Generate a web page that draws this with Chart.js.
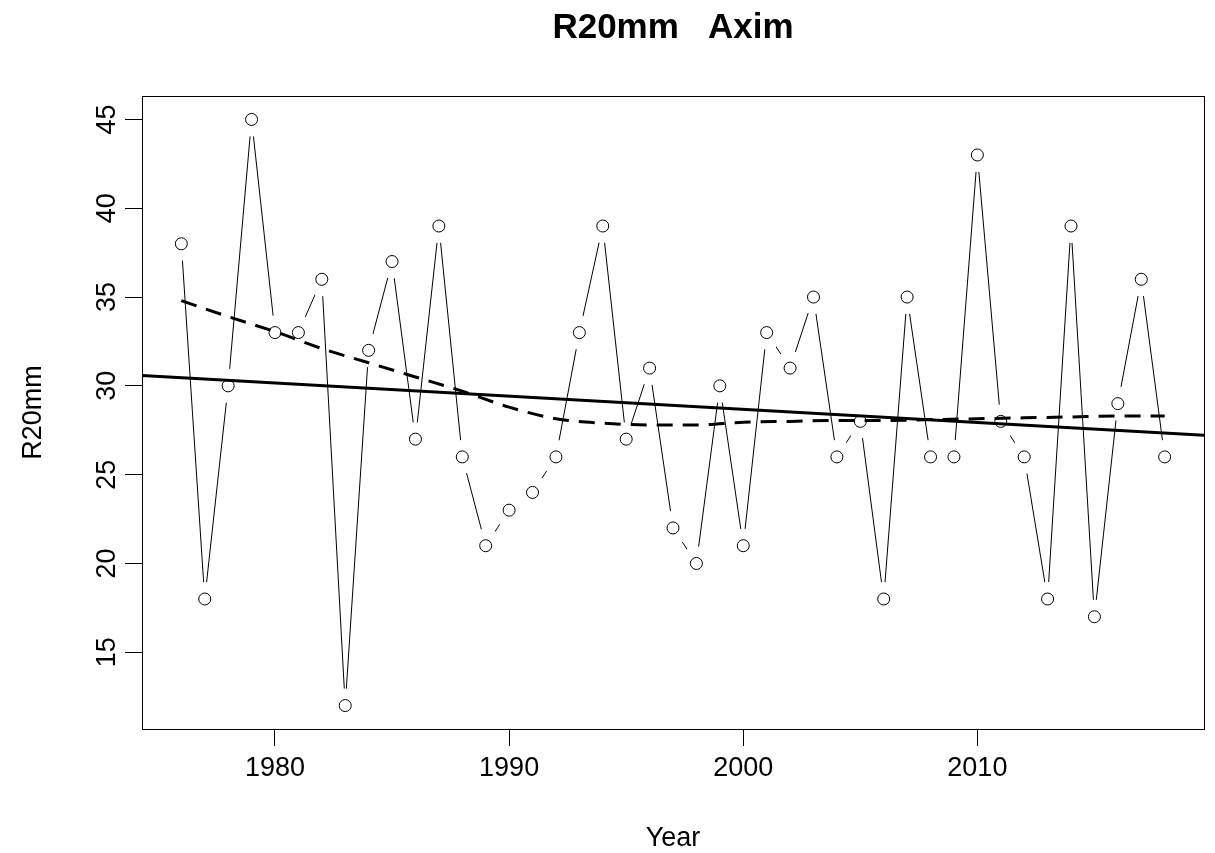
<!DOCTYPE html>
<html>
<head>
<meta charset="utf-8">
<script src="https://cdn.jsdelivr.net/npm/chart.js@4.4.1/dist/chart.umd.min.js"></script>
<style>
  html, body { margin: 0; padding: 0; background: #fff; }
  #wrap { width: 1215px; height: 853px; }
</style>
</head>
<body>
<div id="wrap"><canvas id="r20Chart" width="1215" height="853"></canvas></div>
<script>
const years = [1976, 1977, 1978, 1979, 1980, 1981, 1982, 1983, 1984, 1985,
    1986, 1987, 1988, 1989, 1990, 1991, 1992, 1993, 1994, 1995,
    1996, 1997, 1998, 1999, 2000, 2001, 2002, 2003, 2004, 2005,
    2006, 2007, 2008, 2009, 2010, 2011, 2012, 2013, 2014, 2015,
    2016, 2017, 2018];
const r20mm = [38, 18, 30, 45, 33, 33, 36, 12, 32, 37,
    27, 39, 26, 21, 23, 24, 26, 33, 39, 27,
    31, 22, 20, 30, 21, 33, 31, 35, 26, 28,
    18, 35, 26, 26, 43, 28, 26, 18, 39, 17,
    29, 36, 26];

// linear trend (abline) - read at the plot edges
const trendYears = [1974.32, 2019.68];
const trendValues = [30.59, 27.22];

// smoothed curve (dashed)
const smoothYears = [1976, 1978, 1980, 1982, 1984, 1986, 1988, 1990, 1992, 1994, 1996,
    1998, 2000, 2002, 2004, 2006, 2008, 2010, 2012, 2014, 2016, 2018];
const smoothValues = [34.8, 33.9, 33.05, 32.1, 31.3, 30.5, 29.7, 28.8, 28.15, 27.9, 27.8,
    27.8, 27.95, 28.0, 28.05, 28.05, 28.1, 28.15, 28.2, 28.25, 28.3, 28.3];

const xTicks = [1980, 1990, 2000, 2010];
const yTicks = [15, 20, 25, 30, 35, 40, 45];
const xRange = [1974.32, 2019.68];
const yRange = [10.68, 46.32];

const FONT = '"Liberation Sans", Arial, sans-serif';

const toPoints = (xs, ys) => xs.map((x, i) => ({ x, y: ys[i] }));

// frame around the plot + main title (centred over the plot region like R)
const FrameAndTitle = {
    id: 'frameAndTitle',
    afterDraw(chart) {
        const { ctx, chartArea: a } = chart;
        ctx.save();
        ctx.strokeStyle = '#000';
        ctx.lineWidth = 1;
        ctx.strokeRect(Math.round(a.left) + 0.5, Math.round(a.top) + 0.5,
            Math.round(a.right - a.left), Math.round(a.bottom - a.top));

        ctx.fillStyle = '#000';
        ctx.font = 'bold 35px ' + FONT;
        ctx.textAlign = 'center';
        ctx.textBaseline = 'alphabetic';
        ctx.fillText('R20mm   Axim', (a.left + a.right) / 2, 38);
        ctx.restore();
    }
};

const ctx = document.getElementById('r20Chart').getContext('2d');

new Chart(ctx, {
    type: 'line',
    data: {
        datasets: [
            {
                // connecting lines; white discs leave the gaps round each point (type = "b")
                data: toPoints(years, r20mm),
                borderColor: '#000',
                borderWidth: 1,
                pointRadius: 17,
                pointBackgroundColor: '#fff',
                pointBorderWidth: 0,
                order: 3
            },
            {
                data: toPoints(trendYears, trendValues),
                borderColor: '#000',
                borderWidth: 3,
                pointRadius: 0,
                order: 2
            },
            {
                data: toPoints(smoothYears, smoothValues),
                borderColor: '#000',
                borderWidth: 3,
                borderDash: [16, 10],
                cubicInterpolationMode: 'monotone',
                pointRadius: 0,
                order: 1
            },
            {
                data: toPoints(years, r20mm),
                showLine: false,
                pointRadius: 6,
                pointBackgroundColor: 'rgba(0,0,0,0)',
                pointBorderColor: '#000',
                pointBorderWidth: 1,
                order: 0
            }
        ]
    },
    options: {
        responsive: false,
        animation: false,
        events: [],
        layout: { autoPadding: false, padding: { top: 96, right: 11, left: 0, bottom: 0 } },
        plugins: {
            legend: { display: false },
            tooltip: { enabled: false }
        },
        scales: {
            x: {
                type: 'linear',
                min: xRange[0],
                max: xRange[1],
                afterBuildTicks: s => { s.ticks = xTicks.map(v => ({ value: v })); },
                afterFit: s => {
                    s.height = 124;
                    s.paddingLeft = 0;
                    s.paddingRight = 0;
                },
                grid: { drawOnChartArea: false, drawTicks: true, tickLength: 17, color: '#000' },
                border: { display: false },
                ticks: {
                    color: '#000',
                    font: { family: FONT, size: 27 },
                    padding: 6,
                    maxRotation: 0,
                    callback: v => String(v)
                },
                title: {
                    display: true,
                    text: 'Year',
                    color: '#000',
                    font: { family: FONT, size: 27 },
                    padding: { top: 0, bottom: -2 }
                }
            },
            y: {
                type: 'linear',
                min: yRange[0],
                max: yRange[1],
                afterBuildTicks: s => { s.ticks = yTicks.map(v => ({ value: v })); },
                afterFit: s => {
                    s.width = 142;
                    s.paddingTop = 0;
                    s.paddingBottom = 0;
                },
                grid: { drawOnChartArea: false, drawTicks: true, tickLength: 17, color: '#000' },
                border: { display: false },
                ticks: {
                    color: '#000',
                    font: { family: FONT, size: 27 },
                    padding: 2,
                    minRotation: 90,
                    maxRotation: 90,
                    crossAlign: 'center',
                    callback: v => String(v)
                },
                title: {
                    display: true,
                    text: 'R20mm',
                    color: '#000',
                    font: { family: FONT, size: 27 },
                    padding: { top: 17, bottom: 0 }
                }
            }
        }
    },
    plugins: [FrameAndTitle]
});
</script>
</body>
</html>
